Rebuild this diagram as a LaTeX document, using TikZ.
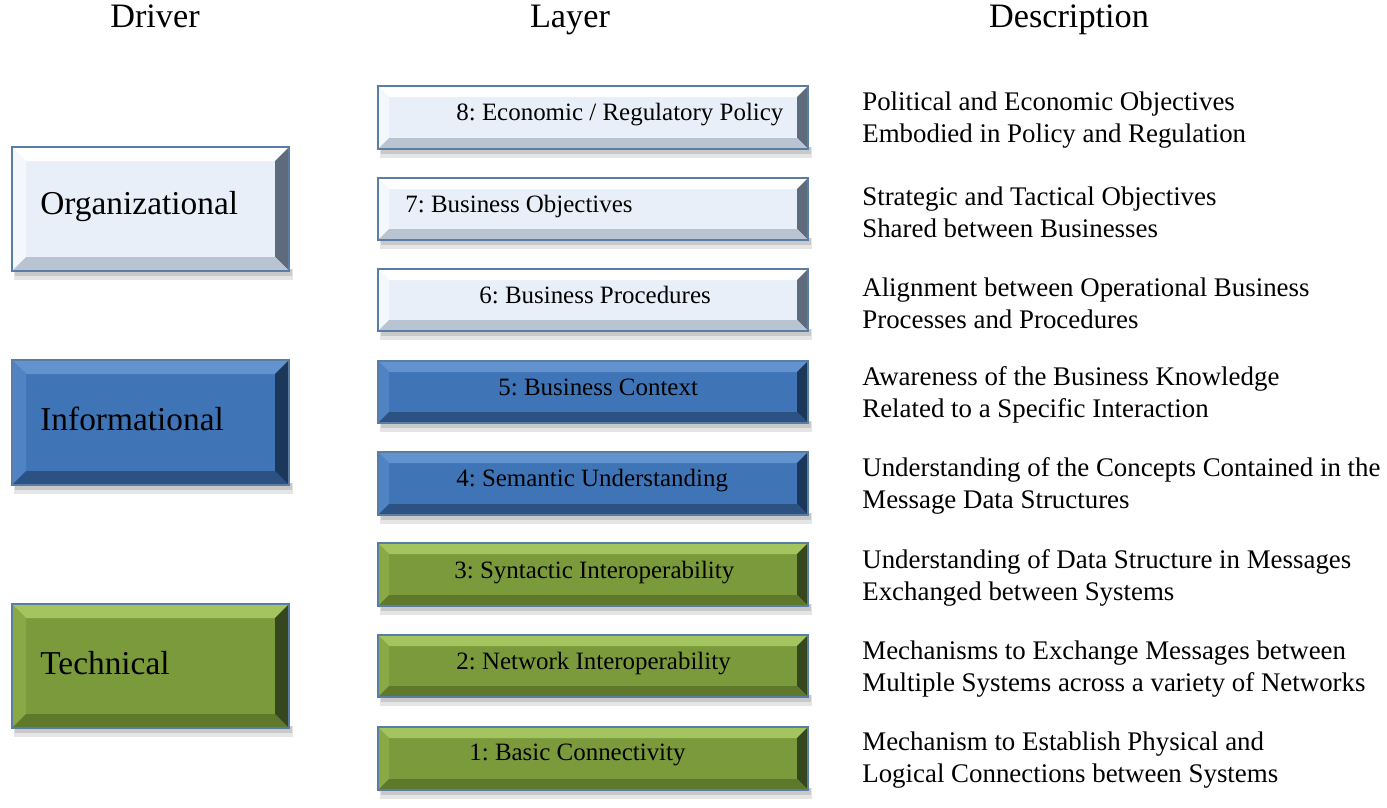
\documentclass[tikz,border=0pt]{standalone}
\usepackage{fontspec}
\setmainfont{Liberation Serif}
\frenchspacing

% box colours: fill, top, left, right and bottom bevel
\definecolor{orgFill}{HTML}{E9EFF8}
\definecolor{orgTop}{HTML}{FFFFFF}
\definecolor{orgLeft}{HTML}{F4F7FC}
\definecolor{orgRight}{HTML}{5E6B7C}
\definecolor{orgBot}{HTML}{B9C4D3}
\definecolor{infFill}{HTML}{3F74B6}
\definecolor{infTop}{HTML}{6393CF}
\definecolor{infLeft}{HTML}{4F83C3}
\definecolor{infRight}{HTML}{1B375A}
\definecolor{infBot}{HTML}{2B5283}
\definecolor{tecFill}{HTML}{7A9A3C}
\definecolor{tecTop}{HTML}{A3C45E}
\definecolor{tecLeft}{HTML}{88A946}
\definecolor{tecRight}{HTML}{364720}
\definecolor{tecBot}{HTML}{5E782C}
\definecolor{edge}{HTML}{5A7DA6}

\tikzset{
  header/.style={anchor=base, inner sep=0pt, font=\fontsize{19.5}{22}\selectfont},
  driver/.style={anchor=west, inner sep=0pt, font=\fontsize{19}{22}\selectfont},
  layer/.style={anchor=west, inner sep=0pt, text height=10pt, text depth=3pt,
                font=\fontsize{14.2}{16}\selectfont},
  descr/.style={anchor=west, inner sep=0pt, align=left,
                font=\fontsize{15.3}{18}\selectfont},
}

% bevelled box: #1 x1, #2 y1, #3 x2, #4 y2, #5 colour set, #6 bevel width
\newcommand{\bevelbox}[6]{%
  \fill[black, opacity=0.10] (#1+2,#4-2) rectangle (#3+4,#4+9);
  \fill[black, opacity=0.12] (#1+3,#4-2) rectangle (#3+3,#4+5);
  \fill[#5Fill] (#1,#2) rectangle (#3,#4);
  \fill[#5Top] (#1,#2) -- (#3,#2) -- (#3-#6,#2+#6) -- (#1+#6,#2+#6) -- cycle;
  \fill[#5Left] (#1,#2) -- (#1+#6,#2+#6) -- (#1+#6,#4-#6) -- (#1,#4) -- cycle;
  \fill[#5Right] (#3,#2) -- (#3,#4) -- (#3-#6,#4-#6) -- (#3-#6,#2+#6) -- cycle;
  \fill[#5Bot] (#1,#4) -- (#3,#4) -- (#3-#6,#4-#6) -- (#1+#6,#4-#6) -- cycle;
  \draw[edge, line width=0.8pt] (#1,#2) rectangle (#3,#4);
}

\begin{document}
\begin{tikzpicture}[x=0.02cm, y=-0.02cm]
  \useasboundingbox (0,0) rectangle (1387,808);

  % column headings
  \node[header] (hdriver) at (155,28) {Driver};
  \node[header] (hlayer) at (570,28) {Layer};
  \node[header] (hdescr) at (1069,28) {Description};

  % driver boxes
  \bevelbox{12}{147}{289}{271}{org}{14}
  \bevelbox{12}{360}{289}{485}{inf}{14}
  \bevelbox{12}{604}{289}{728}{tec}{14}
  \node[driver] (organizational) at (40,207) {Organizational};
  \node[driver] (informational) at (40,419) {Informational};
  \node[driver] (technical) at (40,663) {Technical};

  % layer boxes
  \bevelbox{378}{86}{808}{149}{org}{11}
  \bevelbox{378}{178}{808}{240}{org}{11}
  \bevelbox{378}{269}{808}{331}{org}{11}
  \bevelbox{378}{361}{808}{423}{inf}{11}
  \bevelbox{378}{452}{808}{515}{inf}{11}
  \bevelbox{378}{543}{808}{606}{tec}{11}
  \bevelbox{378}{635}{808}{697}{tec}{11}
  \bevelbox{378}{727}{808}{790}{tec}{11}
  \node[layer] (layer8) at (456,114) {8: Economic / Regulatory Policy};
  \node[layer] (layer7) at (405,206) {7: Business Objectives};
  \node[layer] (layer6) at (479,297) {6: Business Procedures};
  \node[layer] (layer5) at (498,389) {5: Business Context};
  \node[layer] (layer4) at (456,480) {4: Semantic Understanding};
  \node[layer] (layer3) at (454,572) {3: Syntactic Interoperability};
  \node[layer] (layer2) at (456,663) {2: Network Interoperability};
  \node[layer] (layer1) at (469,754) {1: Basic Connectivity};

  % descriptions
  \node[descr] (descr8) at (862,120) {Political and Economic Objectives\\Embodied in Policy and Regulation};
  \node[descr] (descr7) at (862,212) {Strategic and Tactical Objectives\\Shared between Businesses};
  \node[descr] (descr6) at (862,303) {Alignment between Operational Business\\Processes and Procedures};
  \node[descr] (descr5) at (862,395) {Awareness of the Business Knowledge\\Related to a Specific Interaction};
  \node[descr] (descr4) at (862,486) {Understanding of the Concepts Contained in the\\Message Data Structures};
  \node[descr] (descr3) at (862,578) {Understanding of Data Structure in Messages\\Exchanged between Systems};
  \node[descr] (descr2) at (862,669) {Mechanisms to Exchange Messages between\\Multiple Systems across a variety of Networks};
  \node[descr] (descr1) at (862,760) {Mechanism to Establish Physical and\\Logical Connections between Systems};
\end{tikzpicture}
\end{document}
